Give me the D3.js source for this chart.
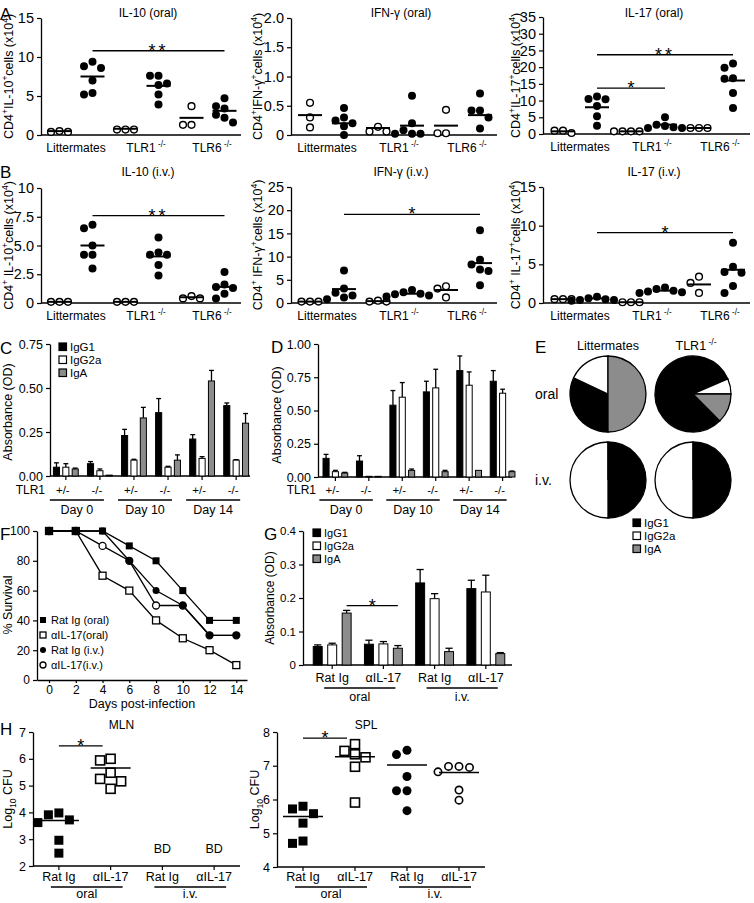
<!DOCTYPE html>
<html>
<head>
<meta charset="utf-8">
<script src="https://cdn.jsdelivr.net/npm/d3@7"></script>
<style>
  body { margin: 0; background: #fff; }
  svg text { font-family: "Liberation Sans", Arial, Helvetica, sans-serif; fill: #000; }
</style>
</head>
<body>
<svg id="fig" width="754" height="903"></svg>
<script>
// ---- dati ----
// gruppi dei pannelli A/B: aperti = non infetti, pieni = infetti
const dotFilled = [false, true, false, true, false, true];
const strainLabels = [['Littermates', ''], ['TLR1', '-/-'], ['TLR6', '-/-']];

// A - orale
const il10Oral = [[0.4, 0.5, 0.4], [9.4, 8.8, 8.6, 7.0, 5.4, 5.2], [0.7, 0.7, 0.7], [7.6, 7.6, 6.6, 6.4, 5.2, 3.9], [3.7, 1.3, 1.3], [4.7, 3.7, 3.4, 2.6, 2.2, 1.6]];
const il10OralMid = [0.5, 7.5, 0.8, 6.3, 2.2, 3.1];
const ifnOral = [[0.55, 0.3, 0.13], [0.46, 0.3, 0.25, 0.2, 0.15, 0.0], [0.14, 0.06, 0.06], [0.67, 0.2, 0.08, 0.02, 0.02, 0.02], [0.43, 0.03, 0.03], [0.71, 0.42, 0.42, 0.3, 0.11]];
const ifnOralMid = [0.34, 0.2, 0.12, 0.16, 0.16, 0.34];
const il17Oral = [[1.0, 0.3, 1.0], [11.2, 10.5, 10.4, 8.4, 5.3, 2.5], [0.8, 0.8, 0.8, 0.8], [5.0, 2.8, 2.4, 2.0, 1.8, 1.8], [1.8, 1.8, 1.8], [21.1, 19.8, 16.7, 16.5, 12.3, 7.8]];
const il17OralMid = [0.8, 8.0, 0.8, 2.8, 1.8, 16.0];

// B - i.v.
const il10Iv = [[0.1, 0.1, 0.1], [6.8, 6.5, 5.0, 4.2, 4.2, 3.0], [0.1, 0.1, 0.1], [5.7, 4.4, 4.2, 4.2, 3.3, 2.4], [0.6, 0.4, 0.4], [2.7, 1.6, 1.4, 1.3, 0.8, 0.4]];
const il10IvMid = [0.1, 5.0, 0.1, 4.05, 0.5, 1.4];
const ifnIv = [[0.3, 0.3, 0.3], [7.0, 3.1, 2.2, 1.6, 1.2, 0.8], [0.5, 0.3, 0.3], [2.8, 2.3, 2.0, 1.9, 1.6, 1.4], [3.6, 3.1, 1.2], [15.7, 9.3, 8.3, 7.2, 6.9, 3.8]];
const ifnIvMid = [0.3, 3.0, 0.4, 2.0, 2.8, 8.6];
const il17Iv = [[0.5, 0.5, 0.5], [0.8, 0.6, 0.5, 0.4, 0.4, 0.3], [0.1, 0.1, 0.1], [2.0, 1.8, 1.6, 1.5, 1.4, 1.3], [3.4, 2.6, 1.3], [7.8, 4.7, 4.0, 3.9, 2.2, 1.3]];
const il17IvMid = [0.5, 0.6, 0.1, 1.6, 2.4, 4.3];

// C / D - anticorpi (gruppi: Day0 +/-, -/-, Day10 +/-, -/-, Day14 +/-, -/-)
const isotypes = ['IgG1', 'IgG2a', 'IgA'];
const tlrGeno = ['+/-', '-/-', '+/-', '-/-', '+/-', '-/-'];
const dayLabels = ['Day 0', 'Day 10', 'Day 14'];
const cIgG1 = [0.05, 0.07, 0.23, 0.36, 0.21, 0.40];
const cIgG2a = [0.05, 0.03, 0.09, 0.05, 0.10, 0.09];
const cIgA = [0.04, 0.005, 0.33, 0.09, 0.54, 0.30];
const cErrG1 = [0.025, 0.012, 0.035, 0.08, 0.025, 0.015];
const cErrG2a = [0.02, 0.01, 0.005, 0.005, 0.01, 0.003];
const cErrA = [0.005, 0, 0.06, 0.03, 0.06, 0.055];
const dIgG1 = [0.14, 0.12, 0.54, 0.64, 0.80, 0.72];
const dIgG2a = [0.04, 0.005, 0.60, 0.67, 0.69, 0.63];
const dIgA = [0.03, 0.005, 0.05, 0.04, 0.05, 0.04];
const dErrG1 = [0.03, 0.04, 0.11, 0.08, 0.11, 0.08];
const dErrG2a = [0.01, 0, 0.11, 0.14, 0.10, 0.03];
const dErrA = [0.005, 0, 0.01, 0.01, 0, 0.005];

// E - torte (IgG1, IgG2a, IgA)
const pieCols = [['Littermates', ''], ['TLR1', '-/-']];
const pieRows = ['oral', 'i.v.'];
const pieShares = [[[0.32, 0.18, 0.50], [0.81, 0.065, 0.125]], [[0.5, 0.5, 0], [0.5, 0.5, 0]]];
const pieStartDeg = [[180, 135], [0, 0]];

// F - sopravvivenza
const days = [0, 2, 4, 6, 8, 10, 12, 14];
const survRatOral = [100, 100, 100, 90, 80, 60, 40, 40];
const survAntiOral = [100, 100, 70, 60, 40, 28, 20, 10];
const survRatIv = [100, 100, 100, 80, 60, 50, 30, 30];
const survAntiIv = [100, 100, 90, 80, 50, 50, 30, 30];
const survNames = ['Rat Ig (oral)', 'αIL-17(oral)', 'Rat Ig (i.v.)', 'αIL-17(i.v.)'];

// G - anticorpi dopo trattamento
const treatNames = ['Rat Ig', 'αIL-17', 'Rat Ig', 'αIL-17'];
const routeNames = ['oral', 'i.v.'];
const gIgG1 = [0.055, 0.062, 0.245, 0.228];
const gIgG2a = [0.06, 0.063, 0.198, 0.218];
const gIgA = [0.155, 0.05, 0.04, 0.034];
const gErrG1 = [0.005, 0.012, 0.04, 0.025];
const gErrG2a = [0.005, 0.007, 0.015, 0.05];
const gErrA = [0.008, 0.008, 0.01, 0.003];

// H - carica batterica (log10 CFU)
const mlnVals = [[3.91, 3.98, 3.62, 3.72, 2.96, 2.48], [5.94, 6.0, 5.25, 5.48, 5.16, 4.88], [], []];
const mlnMid = [3.7, 5.66, null, null];
const splVals = [[5.58, 5.72, 5.8, 5.3, 4.7, 4.77], [7.25, 7.44, 7.64, 7.34, 6.97, 5.91], [7.46, 7.33, 6.68, 6.26, 6.26, 5.67], [6.98, 6.95, 6.82, 6.98, 6.28, 5.98]];
const splMid = [5.5, 7.27, 7.02, 6.8];

// ---- disegno ----
const svg = d3.select('#fig');
const FONT = '"Liberation Sans", Arial, Helvetica, sans-serif';
const GRAY = '#8c8c8c';

function styleAxis(sel, fs) {
    sel.attr('font-family', FONT).attr('font-size', fs);
    sel.selectAll('path.domain').attr('stroke', '#000').attr('stroke-width', 1.3);
    sel.selectAll('.tick line').attr('stroke', '#000').attr('stroke-width', 1.2);
    sel.selectAll('.tick text').attr('fill', '#000');
}

// testo con apici / pedici: parts = [[testo, modo]] modo 1 = apice, -1 = pedice
function rich(sel, parts, fs) {
    let shift = 0;
    parts.forEach(([t, m]) => {
        const target = m === 1 ? -fs * 0.42 : m === -1 ? fs * 0.3 : 0;
        sel.append('tspan').attr('dy', target - shift).attr('font-size', m ? fs * 0.68 : fs).text(t);
        shift = target;
    });
}

function addText(x, y, t, fs, anchor) {
    return svg.append('text').attr('x', x).attr('y', y).attr('font-size', fs)
        .attr('text-anchor', anchor || 'middle').text(t);
}

function yLabel(x, cy, parts, fs) {
    const t = svg.append('text').attr('transform', `translate(${x},${cy}) rotate(-90)`)
        .attr('text-anchor', 'middle').attr('font-size', fs);
    rich(t, parts, fs);
}

function sigBar(x1, x2, y, label) {
    svg.append('line').attr('x1', x1).attr('x2', x2).attr('y1', y).attr('y2', y)
        .attr('stroke', '#000').attr('stroke-width', 1.3);
    svg.append('text').attr('x', (x1 + x2) / 2).attr('y', y + 6).attr('text-anchor', 'middle')
        .attr('font-size', 18).attr('letter-spacing', label.length > 1 ? 3 : 0).text(label);
}

// disposizione a sciame deterministica
function swarm(vals, y, cx, step, minDist) {
    const placed = [];
    vals.map(v => ({ v, py: y(v) })).sort((a, b) => a.py - b.py).forEach(p => {
        for (let k = 0; k < 30; k++) {
            const off = k === 0 ? 0 : (k % 2 ? -1 : 1) * Math.ceil(k / 2) * step;
            if (placed.every(q => Math.hypot(q.x - (cx + off), q.py - p.py) >= minDist)) {
                p.x = cx + off;
                break;
            }
        }
        placed.push(p);
    });
    return placed;
}

function dotPanel(o) {
    const y = d3.scaleLinear().domain([0, o.max]).range([o.zero, o.top]);
    const x = d3.scaleBand().domain(d3.range(6)).range([o.x0, o.x1]);
    const ax = svg.append('g').attr('transform', `translate(${o.axisX},0)`)
        .call(d3.axisLeft(y).tickValues(o.ticks).tickFormat(o.fmt).tickSize(4).tickSizeOuter(0));
    styleAxis(ax, 14.5);
    svg.append('line').attr('x1', o.axisX).attr('x2', o.x1).attr('y1', o.zero).attr('y2', o.zero)
        .attr('stroke', '#000').attr('stroke-width', 1.3);
    const cx = i => x(i) + x.bandwidth() / 2;
    o.values.forEach((vals, i) => {
        const pts = swarm(vals, y, cx(i), 8.5, 8.2);
        svg.append('g').selectAll('circle').data(pts).join('circle')
            .attr('cx', d => d.x).attr('cy', d => d.py)
            .attr('r', dotFilled[i] ? 4 : 3.4)
            .attr('fill', dotFilled[i] ? '#000' : '#fff')
            .attr('stroke', '#000').attr('stroke-width', dotFilled[i] ? 0 : 1.4);
        svg.append('line').attr('x1', cx(i) - 12).attr('x2', cx(i) + 12)
            .attr('y1', y(o.mid[i])).attr('y2', y(o.mid[i]))
            .attr('stroke', '#000').attr('stroke-width', 2);
    });
    o.sigs.forEach(s => sigBar(cx(s[0]), cx(s[1]), y(s[2]), s[3]));
    strainLabels.forEach((lab, k) => {
        const t = svg.append('text').attr('x', (cx(2 * k) + cx(2 * k + 1)) / 2 + (lab[1] ? 4 : 0))
            .attr('y', o.zero + 17).attr('text-anchor', 'middle').attr('font-size', 12);
        rich(t, lab[1] ? [[lab[0], 0], [' ' + lab[1], 1]] : [[lab[0], 0]], 12);
    });
    addText((o.x0 + o.x1) / 2 + 6, o.titleY, o.title, 12);
    yLabel(o.labelX, (o.zero + o.top) / 2, o.label, 12.5);
}

const fmtNum = d => d === 0 ? '0' : (Number.isInteger(d) && d >= 10 ? String(d) : d.toFixed(1));
const labIL10 = [['CD4', 0], ['+', 1], ['IL-10', 0], ['+', 1], ['cells (x10', 0], ['4', 1], [')', 0]];
const labIL10b = [['CD4', 0], ['+', 1], [' IL-10', 0], ['+', 1], ['cells (x10', 0], ['4', 1], [')', 0]];
const labIFN = [['CD4', 0], ['+', 1], ['IFN-γ', 0], ['+', 1], ['cells (x10', 0], ['4', 1], [')', 0]];
const labIFNb = [['CD4', 0], ['+', 1], [' IFN-γ', 0], ['+', 1], ['cells (x10', 0], ['4', 1], [')', 0]];
const labIL17 = [['CD4', 0], ['+', 1], ['IL-17', 0], ['+', 1], ['cells (x10', 0], ['4', 1], [')', 0]];
const labIL17b = [['CD4', 0], ['+', 1], [' IL-17', 0], ['+', 1], ['cells (x10', 0], ['4', 1], [')', 0]];

const colA = [{ axisX: 41, x0: 43, x1: 241, labelX: 13 }, { axisX: 291, x0: 293, x1: 497, labelX: 262 }, { axisX: 543, x0: 546, x1: 750, labelX: 520 }];

dotPanel(Object.assign({}, colA[0], { zero: 135, top: 18, max: 15, ticks: [0, 5, 10, 15], fmt: d3.format('d'),
    values: il10Oral, mid: il10OralMid, sigs: [[1, 5, 10.8, '**']], title: 'IL-10 (oral)', titleY: 17, label: labIL10 }));
dotPanel(Object.assign({}, colA[1], { zero: 135, top: 18, max: 2, ticks: [0, 0.5, 1, 1.5, 2], fmt: fmtNum,
    values: ifnOral, mid: ifnOralMid, sigs: [], title: 'IFN-γ (oral)', titleY: 17, label: labIFN }));
dotPanel(Object.assign({}, colA[2], { zero: 134, top: 17, max: 35, ticks: d3.range(0, 36, 5), fmt: d3.format('d'),
    values: il17Oral, mid: il17OralMid, sigs: [[1, 5, 23.7, '**'], [1, 3, 13.7, '*']], title: 'IL-17 (oral)', titleY: 17, label: labIL17 }));

dotPanel(Object.assign({}, colA[0], { zero: 303, top: 188, max: 10, ticks: [0, 2.5, 5, 7.5, 10], fmt: fmtNum,
    values: il10Iv, mid: il10IvMid, sigs: [[1, 5, 7.6, '**']], title: 'IL-10 (i.v.)', titleY: 176, label: labIL10b }));
dotPanel(Object.assign({}, colA[1], { zero: 303, top: 187, max: 25, ticks: d3.range(0, 26, 5), fmt: d3.format('d'),
    values: ifnIv, mid: ifnIvMid, sigs: [[1, 5, 19.1, '*']], title: 'IFN-γ (i.v.)', titleY: 176, label: labIFNb }));
dotPanel(Object.assign({}, colA[2], { zero: 303, top: 187, max: 15, ticks: [0, 5, 10, 15], fmt: d3.format('d'),
    values: il17Iv, mid: il17IvMid, sigs: [[1, 5, 9.1, '*']], title: 'IL-17 (i.v.)', titleY: 176, label: labIL17b }));

// pannelli a barre
function barPanel(o) {
    const y = d3.scaleLinear().domain([0, o.max]).range([o.zero, o.top]);
    const x = d3.scaleBand().domain(d3.range(o.series[0].length)).range([o.x0, o.x1])
        .paddingInner(o.pi).paddingOuter(o.po);
    const xs = d3.scaleBand().domain(d3.range(3)).range([0, x.bandwidth()]).paddingInner(o.ps);
    const ax = svg.append('g').attr('transform', `translate(${o.x0},0)`)
        .call(d3.axisLeft(y).tickValues(o.ticks).tickFormat(o.fmt).tickSize(4).tickSizeOuter(0));
    styleAxis(ax, o.fs);
    svg.append('line').attr('x1', o.x0).attr('x2', o.xEnd).attr('y1', o.zero).attr('y2', o.zero)
        .attr('stroke', '#000').attr('stroke-width', 1.3);
    const fills = ['#000', '#fff', GRAY];
    o.series.forEach((vals, s) => {
        vals.forEach((v, i) => {
            const bx = x(i) + xs(s), bw = xs.bandwidth(), mx = bx + bw / 2;
            const e = o.errs[s][i];
            if (e > 0) {
                svg.append('line').attr('x1', mx).attr('x2', mx).attr('y1', y(v)).attr('y2', y(v + e))
                    .attr('stroke', '#000').attr('stroke-width', 1.3);
                svg.append('line').attr('x1', mx - bw * 0.4).attr('x2', mx + bw * 0.4)
                    .attr('y1', y(v + e)).attr('y2', y(v + e)).attr('stroke', '#000').attr('stroke-width', 1.3);
            }
            svg.append('rect').attr('x', bx).attr('y', y(v)).attr('width', bw)
                .attr('height', Math.max(0.5, o.zero - y(v)))
                .attr('fill', fills[s]).attr('stroke', '#000').attr('stroke-width', 1);
        });
    });
    const centers = d3.range(o.series[0].length).map(i => x(i) + x.bandwidth() / 2);
    centers.forEach(c => svg.append('line').attr('x1', c).attr('x2', c).attr('y1', o.zero).attr('y2', o.zero + 4)
        .attr('stroke', '#000').attr('stroke-width', 1.2));
    return { x, xs, y, centers };
}

function legend(x0, y0, fs) {
    const fills = ['#000', '#fff', GRAY];
    isotypes.forEach((n, i) => {
        svg.append('rect').attr('x', x0).attr('y', y0 + i * 13).attr('width', 7.5).attr('height', 7.5)
            .attr('fill', fills[i]).attr('stroke', '#000').attr('stroke-width', 1.2);
        addText(x0 + 11, y0 + i * 13 + 8, n, fs, 'start');
    });
}

function dayAxis(centers, tlrX, yTxt) {
    svg.append('text').attr('x', tlrX).attr('y', yTxt).attr('text-anchor', 'end').attr('font-size', 12).text('TLR1');
    centers.forEach((c, i) => addText(c - 3, yTxt, tlrGeno[i], 11.5));
    dayLabels.forEach((d, k) => {
        const a = centers[2 * k] - 16, b = centers[2 * k + 1] + 4;
        svg.append('line').attr('x1', a).attr('x2', b).attr('y1', yTxt + 6).attr('y2', yTxt + 6)
            .attr('stroke', '#000').attr('stroke-width', 1.3);
        addText((a + b) / 2, yTxt + 20, d, 12.5);
    });
}

const C = barPanel({ x0: 50, x1: 252, xEnd: 250, zero: 476, top: 344, max: 0.75, ticks: [0, 0.25, 0.5, 0.75],
    fmt: d3.format('.2f'), fs: 12.5, pi: 0.27, po: 0.1, ps: 0.35,
    series: [cIgG1, cIgG2a, cIgA], errs: [cErrG1, cErrG2a, cErrA] });
legend(59, 343, 11.5);
dayAxis(C.centers, 45, 494);
yLabel(12, 412, [['Absorbance (OD)', 0]], 12.5);
addText(0, 354, 'C', 17, 'start');

const D = barPanel({ x0: 318, x1: 520, xEnd: 512, zero: 477, top: 344, max: 1, ticks: [0, 0.25, 0.5, 0.75, 1],
    fmt: d3.format('.2f'), fs: 12.5, pi: 0.26, po: 0.15, ps: 0.35,
    series: [dIgG1, dIgG2a, dIgA], errs: [dErrG1, dErrG2a, dErrA] });
dayAxis(D.centers, 316, 494);
yLabel(281, 415, [['Absorbance (OD)', 0]], 12.5);
addText(271, 353, 'D', 17, 'start');

// E - torte
addText(535, 353, 'E', 17, 'start');
const pieX = [608, 693], pieY = [394, 480], pieR = 38;
const arc = d3.arc().innerRadius(0).outerRadius(pieR);
pieCols.forEach((c, j) => {
    const t = svg.append('text').attr('x', pieX[j] + (c[1] ? 3 : 0)).attr('y', 350).attr('text-anchor', 'middle').attr('font-size', 12.5);
    rich(t, c[1] ? [[c[0], 0], [' ' + c[1], 1]] : [[c[0], 0]], 12.5);
});
pieRows.forEach((r, i) => {
    addText(535, pieY[i] + 5, r, 14, 'start');
    pieCols.forEach((c, j) => {
        const a0 = pieStartDeg[i][j] * Math.PI / 180;
        const pie = d3.pie().sort(null).startAngle(a0).endAngle(a0 + 2 * Math.PI);
        svg.append('g').attr('transform', `translate(${pieX[j]},${pieY[i]})`)
            .selectAll('path').data(pie(pieShares[i][j])).join('path')
            .attr('d', arc).attr('fill', (d, k) => ['#000', '#fff', GRAY][k])
            .attr('stroke', '#000').attr('stroke-width', 1.3);
    });
});
legend(633, 519, 11.5);

// F - sopravvivenza
addText(0, 540, 'F', 17, 'start');
const fx = d3.scaleLinear().domain([-0.9, 14.8]).range([37, 247]);
const fy = d3.scaleLinear().domain([0, 100]).range([680, 531]);
const fyAx = svg.append('g').attr('transform', 'translate(37,0)')
    .call(d3.axisLeft(fy).tickValues(d3.range(0, 101, 20)).tickSize(4).tickSizeOuter(0));
styleAxis(fyAx, 12);
const fxAx = svg.append('g').attr('transform', 'translate(0,680)')
    .call(d3.axisBottom(fx).tickValues(days).tickSize(3).tickPadding(2).tickSizeOuter(0));
styleAxis(fxAx, 12);
addText(142, 708, 'Days post-infection', 12.5);
yLabel(12, 605, [['% Survival', 0]], 12.5);
const survSeries = [survRatOral, survAntiOral, survRatIv, survAntiIv];
const survLine = d3.line().x((d, i) => fx(days[i])).y(d => fy(d));
survSeries.forEach(s => svg.append('path').attr('d', survLine(s)).attr('fill', 'none')
    .attr('stroke', '#000').attr('stroke-width', 1.3));
function marker(g, k, cx, cy, size) {
    const filled = k % 2 === 0;
    if (k < 2) {
        g.append('rect').attr('x', cx - size / 2).attr('y', cy - size / 2).attr('width', size).attr('height', size)
            .attr('fill', filled ? '#000' : '#fff').attr('stroke', '#000').attr('stroke-width', filled ? 0 : 1.3);
    } else {
        g.append('circle').attr('cx', cx).attr('cy', cy).attr('r', size / 2)
            .attr('fill', filled ? '#000' : '#fff').attr('stroke', '#000').attr('stroke-width', filled ? 0 : 1.3);
    }
}
[3, 1, 2, 0].forEach(k => survSeries[k].forEach((v, i) => marker(svg, k, fx(days[i]), fy(v), 7)));
survNames.forEach((n, k) => {
    marker(svg, k, 43, 620 + k * 15, 6);
    addText(51, 624 + k * 15, n, 11, 'start');
});

// G
addText(264, 540, 'G', 17, 'start');
const G = barPanel({ x0: 303, x1: 515, xEnd: 512, zero: 665, top: 531, max: 0.4, ticks: [0, 0.1, 0.2, 0.3, 0.4],
    fmt: d => d === 0 ? '0' : d.toFixed(1), fs: 11.5, pi: 0.26, po: 0.2, ps: 0.38,
    series: [gIgG1, gIgG2a, gIgA], errs: [gErrG1, gErrG2a, gErrA] });
legend(313, 529, 11);
yLabel(274, 598, [['Absorbance (OD)', 0]], 12);
sigBar(G.x(0) + G.xs(2) + G.xs.bandwidth() / 2, G.x(1) + G.xs(2) + G.xs.bandwidth() / 2, G.y(0.177), '*');

function treatAxis(centers, yTxt, gap) {
    centers.forEach((c, i) => addText(c, yTxt, treatNames[i], 12.5));
    routeNames.forEach((r, k) => {
        const a = centers[2 * k] - 8, b = centers[2 * k + 1] + 12;
        svg.append('line').attr('x1', a).attr('x2', b).attr('y1', yTxt + 6).attr('y2', yTxt + 6)
            .attr('stroke', '#000').attr('stroke-width', 1.3);
        addText((a + b) / 2, yTxt + gap, r, 12.5);
    });
}
treatAxis(G.centers, 682, 19);

// H
addText(0, 735, 'H', 17, 'start');
function cfuPanel(o) {
    const y = d3.scaleLinear().domain([o.min, o.max]).range([o.zero, o.top]);
    const x = d3.scaleBand().domain(d3.range(4)).range([o.x0, o.x1]);
    const ax = svg.append('g').attr('transform', `translate(${o.x0},0)`)
        .call(d3.axisLeft(y).ticks(o.max - o.min).tickFormat(d3.format('d')).tickSize(4).tickSizeOuter(0));
    styleAxis(ax, 12.5);
    svg.append('line').attr('x1', o.x0).attr('x2', o.x1).attr('y1', o.zero).attr('y2', o.zero)
        .attr('stroke', '#000').attr('stroke-width', 1.3);
    const cx = i => x(i) + x.bandwidth() / 2;
    o.values.forEach((vals, i) => {
        svg.append('line').attr('x1', cx(i)).attr('x2', cx(i)).attr('y1', o.zero).attr('y2', o.zero + 4)
            .attr('stroke', '#000').attr('stroke-width', 1.2);
        if (!vals.length) {
            addText(cx(i), y(o.min + 0.5), 'BD', 12.5);
            return;
        }
        swarm(vals, y, cx(i), 10.5, 10).forEach(p => {
            if (i < 2) {
                svg.append('rect').attr('x', p.x - 4.5).attr('y', p.py - 4.5).attr('width', 9).attr('height', 9)
                    .attr('fill', i === 0 ? '#000' : '#fff').attr('stroke', '#000').attr('stroke-width', i === 0 ? 0 : 1.6);
            } else {
                svg.append('circle').attr('cx', p.x).attr('cy', p.py).attr('r', i === 2 ? 4.5 : 3.7)
                    .attr('fill', i === 2 ? '#000' : '#fff').attr('stroke', '#000').attr('stroke-width', i === 2 ? 0 : 1.6);
            }
        });
        svg.append('line').attr('x1', cx(i) - 20).attr('x2', cx(i) + 20)
            .attr('y1', y(o.mid[i])).attr('y2', y(o.mid[i])).attr('stroke', '#000').attr('stroke-width', 1.5);
    });
    sigBar(cx(0), cx(1) - 8, y(o.sig), '*');
    addText((o.x0 + o.x1) / 2 - 15, 729, o.title, 12);
    yLabel(o.labelX, (o.zero + o.top) / 2, [['Log', 0], ['10', -1], [' CFU', 0]], 12.5);
    treatAxis(d3.range(4).map(cx), 881, 17);
}
cfuPanel({ x0: 33, x1: 240, zero: 866, top: 732, min: 2, max: 7, values: mlnVals, mid: mlnMid, sig: 6.48,
    title: 'MLN', labelX: 12 });
cfuPanel({ x0: 277, x1: 485, zero: 867, top: 732, min: 4, max: 8, values: splVals, mid: splMid, sig: 7.82,
    title: 'SPL', labelX: 259 });

addText(0, 20, 'A', 17, 'start');
addText(0, 178, 'B', 17, 'start');
</script>
</body>
</html>
